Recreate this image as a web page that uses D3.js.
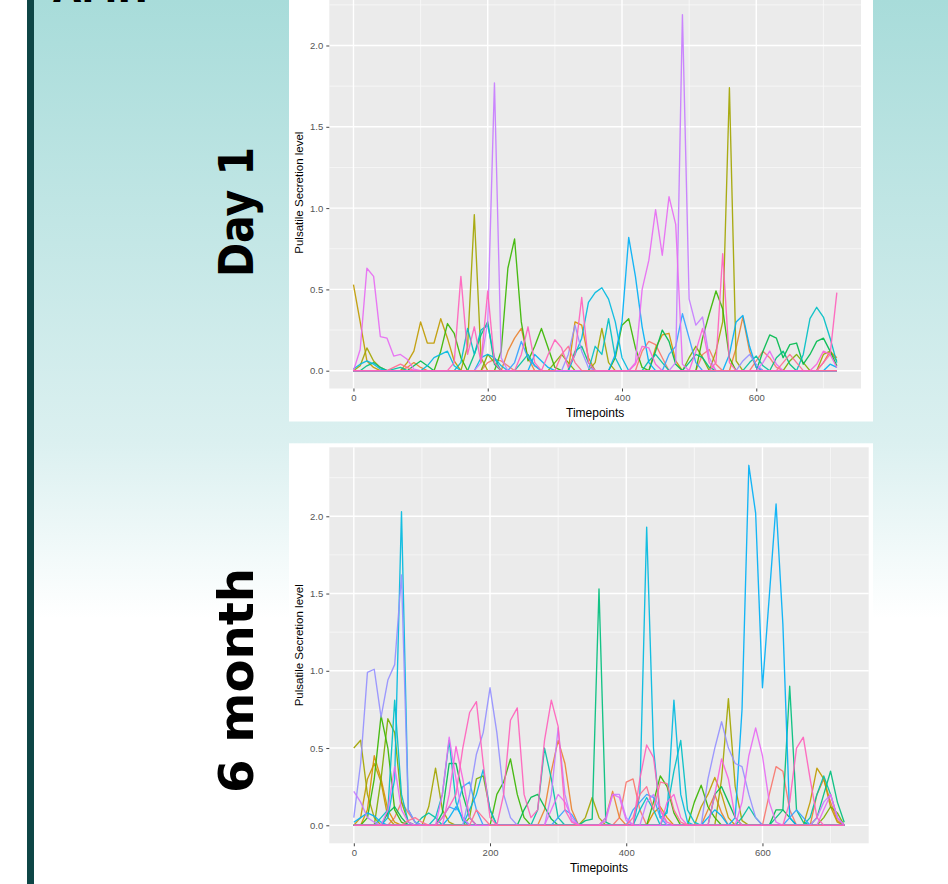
<!DOCTYPE html>
<html>
<head>
<meta charset="utf-8">
<script src="https://cdn.jsdelivr.net/npm/d3@7"></script>
<style>
  body { margin: 0; background: #fff; }
  svg { display: block; }
</style>
</head>
<body>
<script>
var W = 948, H = 884;

// ggplot default hue palette (20 levels)
var palette = ["#F8766D","#EA8331","#D89000","#C09B00","#A3A500","#7CAE00","#39B600","#00BB4E","#00BF7D","#00C1A3",
               "#00BFC4","#00BAE0","#00B0F6","#35A2FF","#9590FF","#C77CFF","#E76BF3","#FA62DB","#FF62BC","#FF6C91"];

// sampling grid of the recordings
var timepoints = d3.range(0, 721, 10);
var yTicks = [0, 0.5, 1, 1.5, 2];
var xTicks = [0, 200, 400, 600];

// ---- Day 1 : [timepoint, level] pairs, every other timepoint is 0 ----
var d1_s0  = [[200,.05],[210,.07],[220,.06],[230,.03],[430,.12],[440,.18],[450,.16],[460,.08],[520,.1],[530,.13],[540,.04],[600,.06],[610,.12],[620,.08],[630,.02]];
var d1_s1  = [[80,.02],[90,.05],[100,.02],[230,.12],[240,.2],[250,.26],[260,.08],[570,.14],[580,.33],[590,.12],[600,.02],[700,.05],[710,.12],[720,.08]];
var d1_s2  = [[330,.3],[340,.28],[350,.08],[450,.14],[460,.22],[470,.23],[480,.06]];
var d1_s3  = [[0,.53],[10,.3],[20,.06],[30,.02],[80,.05],[90,.12],[100,.3],[110,.17],[120,.17],[130,.32],[140,.2],[150,.06]];
var d1_s4  = [[10,.03],[20,.14],[30,.06],[40,.02],[170,.15],[180,.96],[190,.08],[360,.05],[370,.26],[380,.05],[540,.12],[550,.3],[560,1.74],[570,.06],[700,.1],[710,.12],[720,.06]];
var d1_s5  = [[200,.1],[210,.05],[300,.05],[310,.1],[320,.05],[500,.08],[510,.15],[520,.08],[650,.06],[660,.1],[670,.05]];
var d1_s6  = [[130,.12],[140,.29],[150,.23],[160,.08],[220,.12],[230,.63],[240,.81],[250,.3],[260,.06],[270,.15],[280,.26],[290,.14],[300,.02],[390,.08],[400,.28],[410,.32],[420,.14],[430,.02],[520,.2],[530,.35],[540,.49],[550,.38],[560,.08]];
var d1_s7  = [[90,.03],[100,.06],[110,.03],[450,.12],[460,.25],[470,.18],[480,.04],[610,.12],[620,.22],[630,.2],[640,.08],[650,.16],[660,.17],[670,.04],[680,.1],[690,.18],[700,.2],[710,.12],[720,.03]];
var d1_s8  = [[20,.03],[30,.05],[40,.02],[180,.1],[190,.22],[200,.3],[210,.04],[330,.12],[340,.15],[350,.05],[500,.05],[510,.1],[520,.08],[530,.02],[630,.08],[640,.12],[650,.04]];
var d1_s9  = [[60,.01],[70,.02],[250,.05],[260,.1],[270,.03],[440,.06],[450,.1],[460,.05],[590,.05],[600,.09],[610,.03]];
var d1_s10 = [[160,.05],[170,.26],[180,.1],[190,.25],[200,.28],[210,.08],[360,.15],[370,.1],[380,.32],[390,.08],[670,.1],[680,.32],[690,.39],[700,.33],[710,.2],[720,.05]];
var d1_s11 = [[0,.01],[10,.04],[20,.06],[30,.04],[40,.01],[110,.03],[120,.08],[130,.1],[140,.12],[150,.03],[190,.08],[200,.1],[210,.08],[220,.03],[330,.1],[340,.2],[350,.42],[360,.48],[370,.51],[380,.44],[390,.3],[400,.08]];
var d1_s12 = [[270,.1],[280,.06],[290,.02],[390,.1],[400,.3],[410,.82],[420,.58],[430,.27],[440,.05],[560,.1],[570,.3],[580,.34],[590,.15],[600,.02],[710,.04],[720,.02]];
var d1_s13 = [[240,.05],[250,.18],[260,.08],[270,.03],[470,.1],[480,.15],[490,.35],[500,.2],[510,.05]];
var d1_s14 = [[320,.1],[330,.28],[340,.12],[350,.02],[580,.06],[590,.1],[600,.04]];
var d1_s15 = [[190,.05],[200,.3],[210,1.77],[220,.08],[480,.05],[490,2.19],[500,.44],[510,.28],[520,.33],[530,.08]];
var d1_s16 = [[10,.13],[20,.63],[30,.58],[40,.21],[50,.2],[60,.09],[70,.1],[80,.07],[90,.01],[420,.05],[430,.5],[440,.68],[450,.99],[460,.71],[470,1.07],[480,.9],[490,.04],[610,.05],[620,.12],[630,.04]];
var d1_s17 = [[420,.04],[430,.15],[440,.14],[450,.04],[510,.12],[520,.26],[530,.05],[690,.04],[700,.12],[710,.1],[720,.02]];
var d1_s19 = [[60,.02],[70,.04],[80,.02],[310,.1],[320,.15],[330,.05],[640,.05],[650,.1],[660,.05]];
var d1_s18 = [[150,.05],[160,.58],[170,.1],[180,.27],[190,.05],[200,.49],[210,.05],[250,.1],[260,.27],[270,.05],[290,.1],[300,.19],[310,.14],[320,.02],[330,.1],[340,.45],[350,.05],[540,.05],[550,.72],[560,.05],[700,.05],[710,.1],[720,.48]];

var day1Series = [d1_s0,d1_s1,d1_s2,d1_s3,d1_s4,d1_s5,d1_s6,d1_s7,d1_s8,d1_s9,d1_s10,d1_s11,d1_s12,d1_s13,d1_s14,d1_s15,d1_s16,d1_s17,d1_s19,d1_s18];
var day1Colors = [0,1,2,3,4,5,6,7,8,9,10,11,12,13,14,15,16,17,19,18];

// ---- 6 month ----
var m6_s0  = [[60,.05],[70,.15],[80,.08],[90,.02],[390,.05],[400,.28],[410,.3],[420,.1],[610,.2],[620,.38],[630,.35],[640,.1]];
var m6_s1  = [[280,.1],[290,.35],[300,.55],[310,.4],[320,.1],[370,.05],[380,.22],[390,.05],[520,.1],[530,.2],[540,.08],[680,.2],[690,.3],[700,.15],[710,.03]];
var m6_s2  = [[20,.1],[30,.45],[40,.3],[50,.1],[60,.02],[440,.08],[450,.12],[460,.05]];
var m6_s3  = [[10,.05],[20,.3],[30,.4],[40,.28],[50,.05],[510,.12],[520,.2],[530,.31],[540,.2],[550,.05],[670,.15],[680,.37],[690,.3],[700,.12],[710,.02]];
var m6_s4  = [[0,.5],[10,.55],[20,.2],[30,.05],[110,.12],[120,.37],[130,.1],[140,.02],[340,.05],[350,.18],[360,.05],[540,.3],[550,.82],[560,.25],[570,.03]];
var m6_s5  = [[40,.3],[50,.69],[60,.6],[70,.15],[80,.02],[170,.05],[180,.3],[190,.32],[200,.1],[690,.05],[700,.12],[710,.08]];
var m6_s6  = [[20,.05],[30,.3],[40,.71],[50,.5],[60,.1],[70,.02],[210,.2],[220,.28],[230,.43],[240,.2],[250,.05],[440,.15],[450,.32],[460,.25],[470,.08],[500,.15],[510,.26],[520,.12],[530,.05]];
var m6_s7  = [[50,.08],[60,.12],[70,.05],[130,.08],[140,.4],[150,.4],[160,.2],[170,.05],[250,.1],[260,.18],[270,.2],[280,.12],[290,.04],[530,.2],[540,.25],[550,.15],[560,.05],[620,.1],[630,.1],[640,.05]];
var m6_s8  = [[340,.03],[350,.04],[360,1.53],[370,.02],[620,.05],[630,.1],[640,.9],[650,.1],[660,.02],[680,.05],[690,.2],[700,.35],[710,.15],[720,.02]];
var m6_s9  = [[100,.05],[110,.08],[120,.05],[270,.1],[280,.5],[290,.3],[300,.05],[570,.05],[580,.12],[590,.05],[670,.05],[680,.2],[690,.32],[700,.2],[710,.05]];
var m6_s10 = [[40,.05],[50,.1],[60,.81],[70,.2],[80,.02],[120,.05],[130,.2],[140,.55],[150,.15],[160,.03],[420,.1],[430,.18],[440,.1],[460,.1],[470,.35],[480,.55],[490,.1],[500,.02]];
var m6_s11 = [[50,.05],[60,.3],[70,2.03],[80,.1],[90,.02],[170,.1],[180,.2],[190,.36],[200,.1],[420,.2],[430,1.93],[440,.5],[450,.05],[460,.08],[470,.81],[480,.2],[490,.02]];
var m6_s12 = [[0,.02],[10,.05],[20,.08],[30,.06],[40,.02],[140,.05],[150,.12],[160,.05],[520,.05],[530,.1],[540,.06],[560,.05],[570,.75],[580,2.33],[590,2.02],[600,.89],[610,1.48],[620,2.08],[630,1.3],[640,.05]];
var m6_s13 = [[130,.05],[140,.12],[150,.1],[160,.25],[170,.28],[180,.1],[300,.05],[310,.1],[320,.07],[410,.1],[420,.15],[430,.2],[440,.18],[450,.05],[640,.05],[650,.1],[660,.05]];
var m6_s14 = [[0,.05],[10,.4],[20,.99],[30,1.01],[40,.7],[50,.94],[60,1.04],[70,1.62],[80,.1],[90,.02],[170,.2],[180,.46],[190,.6],[200,.89],[210,.6],[220,.2],[230,.05],[520,.3],[530,.5],[540,.67],[550,.5],[560,.4],[570,.38],[580,.2],[590,.05]];
var m6_s15 = [[0,.22],[10,.15],[20,.05],[30,.02],[290,.2],[300,.63],[310,.2],[320,.03],[370,.05],[380,.2],[390,.2],[400,.05],[430,.15],[440,.2],[450,.1],[680,.05],[690,.15],[700,.2],[710,.05]];
var m6_s16 = [[50,.1],[60,.38],[70,.1],[80,.02],[130,.2],[140,.57],[150,.3],[160,.05],[290,.1],[300,.2],[310,.15],[320,.05],[370,.03],[380,.2],[390,.18],[400,.03],[570,.15],[580,.45],[590,.63],[600,.45],[610,.15],[620,.02],[690,.1],[700,.2],[710,.05]];
var m6_s17 = [[140,.2],[150,.51],[160,.3],[170,.05],[460,.15],[470,.2],[480,.05],[530,.2],[540,.43],[550,.3],[560,.05]];
var m6_s19 = [[80,.03],[90,.05],[100,.02],[180,.1],[190,.05],[410,.05],[420,.2],[430,.25],[440,.1],[450,.28],[460,.27],[470,.1],[480,.02]];
var m6_s18 = [[130,.05],[140,.12],[150,.2],[160,.5],[170,.73],[180,.8],[190,.4],[200,.05],[220,.2],[230,.68],[240,.76],[250,.2],[260,.05],[270,.1],[280,.55],[290,.81],[300,.64],[310,.1],[320,.02],[420,.3],[430,.52],[440,.44],[450,.1],[460,.02],[640,.15],[650,.5],[660,.57],[670,.3],[680,.05]];

var month6Series = [m6_s0,m6_s1,m6_s2,m6_s3,m6_s4,m6_s5,m6_s6,m6_s7,m6_s8,m6_s9,m6_s10,m6_s11,m6_s12,m6_s13,m6_s14,m6_s15,m6_s16,m6_s17,m6_s19,m6_s18];
var month6Colors = [0,1,2,3,4,5,6,7,8,9,10,11,12,13,14,15,16,17,19,18];

var svg = d3.select("body").append("svg")
    .attr("width", W)
    .attr("height", H);

// poster background
var grad = svg.append("defs").append("linearGradient")
    .attr("id", "bg")
    .attr("gradientUnits", "userSpaceOnUse")
    .attr("x1", 0).attr("y1", 0).attr("x2", 0).attr("y2", H);
grad.append("stop").attr("offset", 0).attr("stop-color", "#a8dcda");
grad.append("stop").attr("offset", 0.5).attr("stop-color", "#dbf0f0");
grad.append("stop").attr("offset", 0.7).attr("stop-color", "#ffffff");

svg.append("rect").attr("width", W).attr("height", H).attr("fill", "url(#bg)");
svg.append("rect").attr("x", 0).attr("width", 27).attr("height", H).attr("fill", "#ffffff");
svg.append("rect").attr("x", 27).attr("width", 7).attr("height", H).attr("fill", "#0e4646");

// heading cut off at the top of the crop
svg.append("text")
    .attr("x", 53).attr("y", 2)
    .attr("textLength", 95).attr("lengthAdjust", "spacingAndGlyphs")
    .style("font-family", "DejaVu Sans").style("font-weight", "bold").style("font-size", "48px")
    .text("AMH");

function fullSeries(pts) {
    var m = new Map(pts);
    return timepoints.map(function(t) { return [t, m.has(t) ? m.get(t) : 0]; });
}

function drawChart(cfg) {
    var g = svg.append("g");

    g.append("rect")
        .attr("x", 289).attr("y", cfg.boxTop)
        .attr("width", 584).attr("height", cfg.boxBottom - cfg.boxTop)
        .attr("fill", "#ffffff");

    var series = cfg.series.map(fullSeries);
    var xMin = 0, xMax = 720;
    var yMax = d3.max(series, function(s) { return d3.max(s, function(d) { return d[1]; }); });
    var xPad = (xMax - xMin) * 0.05, yPad = yMax * 0.05;

    var x = d3.scaleLinear().domain([xMin - xPad, xMax + xPad]).range([cfg.left, cfg.right]);
    var y = d3.scaleLinear().domain([-yPad, yMax + yPad]).range([cfg.bottom, cfg.top]);

    g.append("rect")
        .attr("x", cfg.left).attr("y", cfg.top)
        .attr("width", cfg.right - cfg.left).attr("height", cfg.bottom - cfg.top)
        .attr("fill", "#ebebeb");

    // minor grid
    var yMinor = [0.25, 0.75, 1.25, 1.75, 2.25].filter(function(v) { return v < yMax + yPad; });
    g.selectAll(".ymin").data(yMinor).enter().append("line")
        .attr("x1", cfg.left).attr("x2", cfg.right)
        .attr("y1", y).attr("y2", y)
        .attr("stroke", "#fafafa").attr("stroke-width", 0.7);
    g.selectAll(".xmin").data([100, 300, 500, 700]).enter().append("line")
        .attr("x1", x).attr("x2", x)
        .attr("y1", cfg.top).attr("y2", cfg.bottom)
        .attr("stroke", "#fafafa").attr("stroke-width", 0.7);

    // major grid
    g.selectAll(".ymaj").data(yTicks).enter().append("line")
        .attr("x1", cfg.left).attr("x2", cfg.right)
        .attr("y1", y).attr("y2", y)
        .attr("stroke", "#ffffff").attr("stroke-width", 1.4);
    g.selectAll(".xmaj").data(xTicks).enter().append("line")
        .attr("x1", x).attr("x2", x)
        .attr("y1", cfg.top).attr("y2", cfg.bottom)
        .attr("stroke", "#ffffff").attr("stroke-width", 1.4);

    var line = d3.line()
        .x(function(d) { return x(d[0]); })
        .y(function(d) { return y(d[1]); });

    g.append("g").selectAll("path")
        .data(series)
        .enter().append("path")
        .attr("d", line)
        .attr("fill", "none")
        .attr("stroke", function(d, i) { return palette[cfg.colors[i]]; })
        .attr("stroke-width", 1.35)
        .attr("stroke-opacity", 0.92)
        .attr("stroke-linejoin", "round");

    var yAxis = g.append("g")
        .attr("transform", "translate(" + cfg.left + ",0)")
        .call(d3.axisLeft(y).tickValues(yTicks).tickFormat(d3.format(".1f")).tickSize(3).tickPadding(3));
    var xAxis = g.append("g")
        .attr("transform", "translate(0," + cfg.bottom + ")")
        .call(d3.axisBottom(x).tickValues(xTicks).tickSize(3).tickPadding(3));

    [yAxis, xAxis].forEach(function(a) {
        a.select(".domain").remove();
        a.selectAll("line").attr("stroke", "#444");
        a.selectAll("text")
            .attr("fill", "#555")
            .style("font-family", "Liberation Sans, Arial, sans-serif")
            .style("font-size", "9.5px");
    });

    g.append("text")
        .attr("x", (cfg.left + cfg.right) / 2).attr("y", cfg.xTitleY)
        .attr("text-anchor", "middle")
        .style("font-family", "Liberation Sans, Arial, sans-serif").style("font-size", "12px")
        .text("Timepoints");

    g.append("text")
        .attr("transform", "translate(303," + ((cfg.top + cfg.bottom) / 2) + ") rotate(-90)")
        .attr("text-anchor", "middle")
        .style("font-family", "Liberation Sans, Arial, sans-serif").style("font-size", "11.5px")
        .text("Pulsatile Secretion level");

    svg.append("text")
        .attr("transform", "translate(253," + cfg.labelY + ") rotate(-90)")
        .attr("text-anchor", "middle")
        .attr("textLength", cfg.labelLen).attr("lengthAdjust", "spacingAndGlyphs")
        .style("font-family", "DejaVu Sans").style("font-weight", "bold").style("font-size", "48px")
        .text(cfg.label);
}

drawChart({
    series: day1Series, colors: day1Colors,
    boxTop: -10, boxBottom: 421.5,
    left: 329.3, right: 861, top: -3.2, bottom: 388.5,
    xTitleY: 416.5,
    label: "Day 1", labelY: 212, labelLen: 130
});

drawChart({
    series: month6Series, colors: month6Colors,
    boxTop: 443.3, boxBottom: 900,
    left: 329.3, right: 868.7, top: 447.3, bottom: 843.3,
    xTitleY: 871.5,
    label: "6 month", labelY: 680.5, labelLen: 225
});
</script>
</body>
</html>
